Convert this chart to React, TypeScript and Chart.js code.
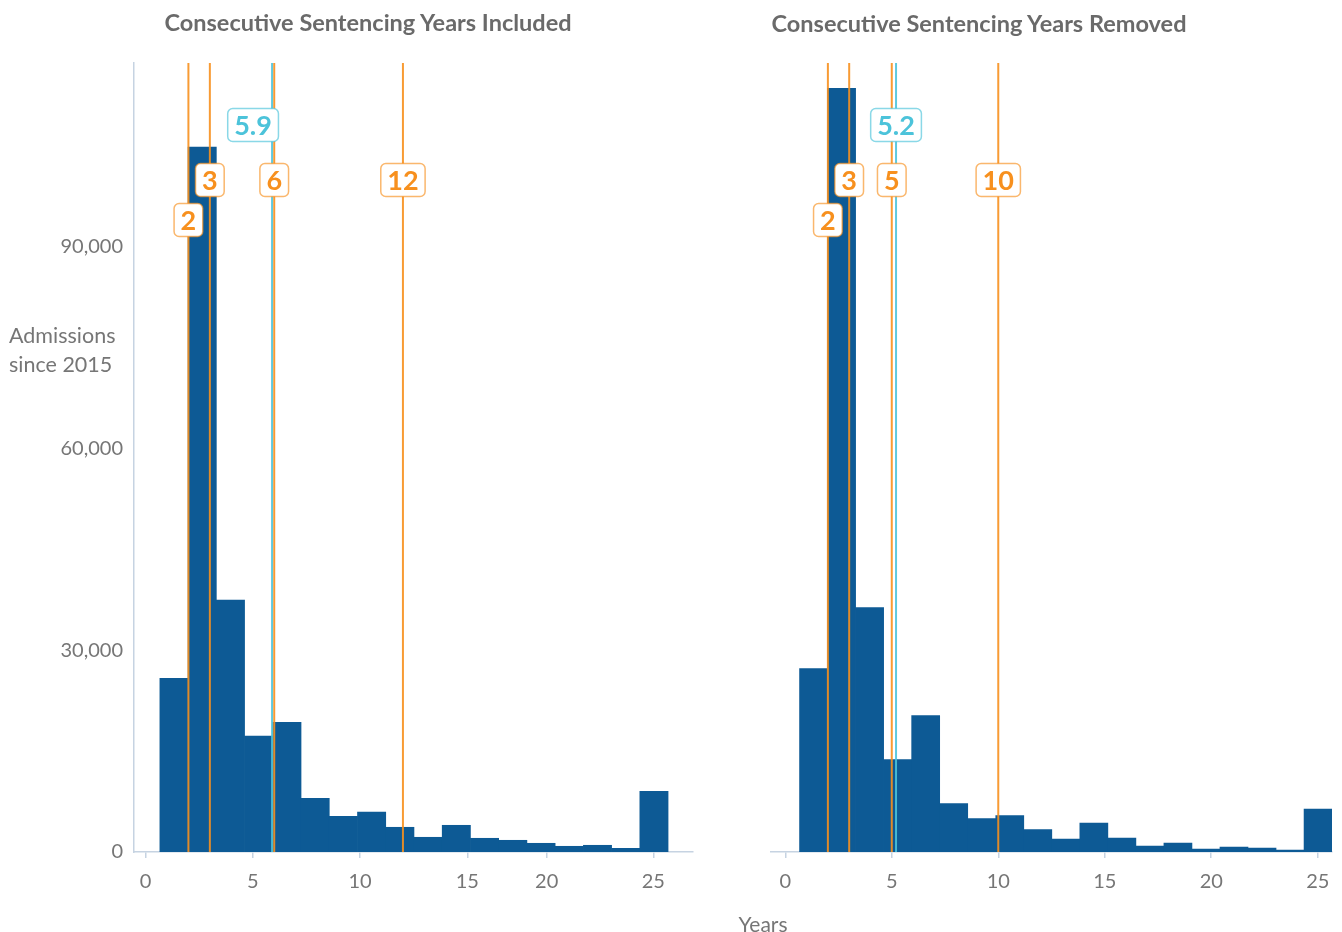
import React, { useEffect, useRef } from "react";
import { Chart, registerables } from "chart.js";

Chart.register(...registerables);

// ---- data ----
const leftCounts = [25836, 104815, 37440, 17250, 19290, 7990, 5310, 5935, 3674, 2187, 3970, 2038, 1740, 1294, 848, 997, 550, 9030];
const rightCounts = [27263, 113530, 36336, 13728, 20272, 7184, 4953, 5399, 3317, 1933, 4313, 2082, 892, 1338, 446, 744, 595, 297, 6396];
const binStart = 0.67;
const binWidth = 1.316;
const leftTickValues = [0, 5, 10, 15, 18.7, 23.67];
const rightTickValues = [0, 5, 10, 15, 20, 25];
const xTickLabels = ["0", "5", "10", "15", "20", "25"];
const yTickValues = [0, 30000, 60000, 90000];
const leftQuantiles = [2, 3, 6, 12];
const rightQuantiles = [2, 3, 5, 10];
const quantileLabels = { left: ["2", "3", "6", "12"], right: ["2", "3", "5", "10"] };
const leftMean = 5.9;
const rightMean = 5.2;
const titles = ["Consecutive Sentencing Years Included", "Consecutive Sentencing Years Removed"];

// ---- style ----
const BAR = "#0D5A95";
const ORANGE = "#F7901E";
const CYAN = "#4CC3DA";
const AXIS = "#C6D3E2";
const TEXT = "#767676";
const FONT = "Lato, 'Open Sans', sans-serif";
const YMAX = 117300;

type Marker = { value: number; label: string; color: string; level: number; dx: number };

const markerPlugin = {
  id: "markers",
  afterDatasetsDraw(chart: any, _args: any, opts: any) {
    const { ctx, chartArea, scales } = chart;
    const xs = scales.x;
    const markers: Marker[] = opts.list || [];
    const levels = [62, 117, 157];
    ctx.save();
    markers.forEach((m) => {
      const x = xs.getPixelForValue(m.value);
      ctx.beginPath();
      ctx.strokeStyle = m.color;
      ctx.globalAlpha = 0.9;
      ctx.lineWidth = 2;
      ctx.moveTo(x, chartArea.top);
      ctx.lineTo(x, chartArea.bottom);
      ctx.stroke();
    });
    ctx.globalAlpha = 1;
    ctx.font = `bold 27px ${FONT}`;
    ctx.textAlign = "center";
    ctx.textBaseline = "middle";
    markers.forEach((m) => {
      const x = xs.getPixelForValue(m.value) + m.dx;
      const y = chartArea.top + levels[m.level];
      const w = ctx.measureText(m.label).width + 13;
      const h = 33;
      ctx.beginPath();
      (ctx as any).roundRect(x - w / 2, y - h / 2, w, h, 5);
      ctx.fillStyle = "#ffffff";
      ctx.fill();
      ctx.globalAlpha = 0.65;
      ctx.lineWidth = 1.5;
      ctx.strokeStyle = m.color;
      ctx.stroke();
      ctx.globalAlpha = 1;
      ctx.fillStyle = m.color;
      ctx.fillText(m.label, x, y + 1);
    });
    ctx.restore();
  },
};

function buildMarkers(q: number[], labels: string[], mean: number, meanDx: number): Marker[] {
  const out: Marker[] = [{ value: mean, label: mean.toFixed(1), color: CYAN, level: 0, dx: meanDx }];
  q.forEach((v, i) => out.push({ value: v, label: labels[i], color: ORANGE, level: i === 0 ? 2 : 1, dx: 0 }));
  return out;
}

type PanelProps = {
  counts: number[];
  tickValues: number[];
  xMin: number;
  xMax: number;
  showY: boolean;
  markers: Marker[];
  width: number;
  padLeft: number;
  padRight: number;
};

function Panel({ counts, tickValues, xMin, xMax, showY, markers, width, padLeft, padRight }: PanelProps) {
  const ref = useRef<HTMLCanvasElement | null>(null);
  useEffect(() => {
    if (!ref.current) return;
    const data = counts.map((c, i) => ({ x: binStart + (i + 0.5) * binWidth, y: c }));
    const chart = new Chart(ref.current, {
      type: "bar",
      data: {
        datasets: [
          {
            data,
            backgroundColor: BAR,
            borderWidth: 0,
            barPercentage: 1,
            categoryPercentage: 1,
          } as any,
        ],
      },
      options: {
        animation: false,
        responsive: false,
        maintainAspectRatio: false,
        layout: { padding: { top: 63, left: padLeft, right: padRight, bottom: 20 } },
        plugins: {
          legend: { display: false },
          tooltip: { enabled: false },
          title: { display: false },
          markers: { list: markers },
        } as any,
        scales: {
          x: {
            type: "linear",
            offset: false,
            min: xMin,
            max: xMax,
            afterBuildTicks: (s: any) => {
              s.ticks = tickValues.map((v) => ({ value: v }));
            },
            afterFit: (s: any) => {
              s.height = 60;
            },
            ticks: {
              autoSkip: false,
              maxRotation: 0,
              padding: 12,
              color: TEXT,
              font: { family: FONT, size: 20 },
              callback: (_v: any, i: number) => xTickLabels[i],
            },
            grid: { display: true, offset: false, drawOnChartArea: false, drawTicks: true, tickLength: 6, color: AXIS, lineWidth: 1.5 },
            border: { display: true, color: AXIS, width: 1.5 },
          },
          y: {
            display: showY,
            min: 0,
            max: YMAX,
            afterBuildTicks: (s: any) => {
              s.ticks = yTickValues.map((v) => ({ value: v }));
            },
            afterFit: (s: any) => {
              s.width = showY ? 134 : 0;
            },
            ticks: {
              padding: 11,
              color: TEXT,
              font: { family: FONT, size: 20 },
              callback: (v: any) => Number(v).toLocaleString("en-US"),
            },
            grid: { display: false, drawTicks: false },
            border: { display: true, color: AXIS, width: 1.5 },
          },
        },
      } as any,
      plugins: [markerPlugin as any],
    });
    return () => chart.destroy();
  }, []);
  return <canvas ref={ref} width={width} height={932} style={{ width, height: 932, display: "block" }} />;
}

export default function App() {
  const textBase: React.CSSProperties = { position: "absolute", fontFamily: FONT, color: TEXT, whiteSpace: "nowrap" };
  return (
    <div style={{ position: "absolute", left: 0, top: 0, width: 1342, height: 932, background: "#fff", overflow: "hidden" }}>
      <div style={{ position: "absolute", left: 0, top: 0 }}>
        <Panel
          counts={leftCounts}
          tickValues={leftTickValues}
          xMin={-0.536}
          xMax={25.52}
          showY={true}
          markers={buildMarkers(leftQuantiles, quantileLabels.left, leftMean, -19)}
          width={700}
          padLeft={0}
          padRight={7}
        />
      </div>
      <div style={{ position: "absolute", left: 700, top: 0 }}>
        <Panel
          counts={rightCounts}
          tickValues={rightTickValues}
          xMin={-0.685}
          xMax={25.67}
          showY={false}
          markers={buildMarkers(rightQuantiles, quantileLabels.right, rightMean, 0)}
          width={642}
          padLeft={70.7}
          padRight={10}
        />
      </div>
      <div style={{ ...textBase, left: 368, top: 22, transform: "translate(-50%, -50%)", fontWeight: 700, fontSize: 23.5, color: "#6A6A6A" }}>
        {titles[0]}
      </div>
      <div style={{ ...textBase, left: 979, top: 23, transform: "translate(-50%, -50%)", fontWeight: 700, fontSize: 23.5, color: "#6A6A6A" }}>
        {titles[1]}
      </div>
      <div style={{ ...textBase, left: 9, top: 321, fontSize: 21.5, lineHeight: "29px" }}>
        Admissions
        <br />
        since 2015
      </div>
      <div style={{ ...textBase, left: 763, top: 923, transform: "translate(-50%, -50%)", fontSize: 21 }}>Years</div>
    </div>
  );
}
